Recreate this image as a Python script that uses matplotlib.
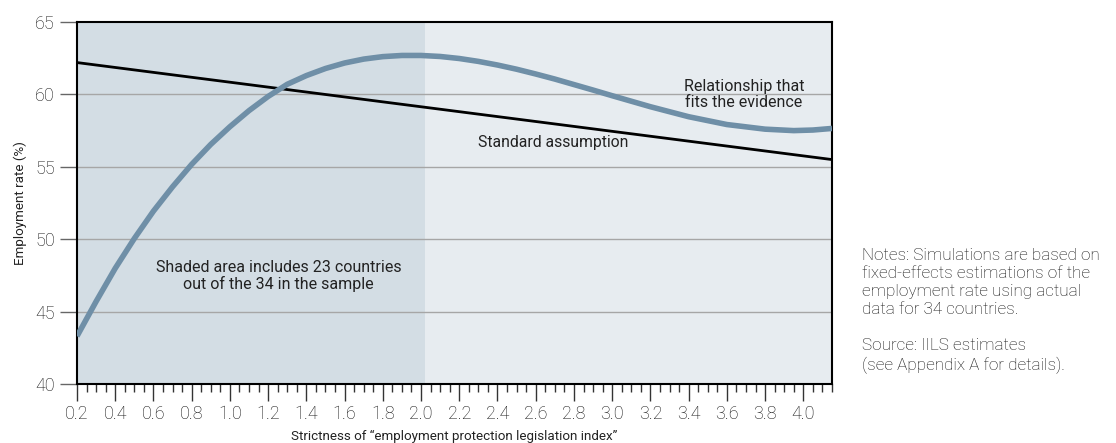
import matplotlib
matplotlib.use("Agg")
import matplotlib.pyplot as plt
from matplotlib.ticker import MultipleLocator

plt.rcParams['font.family'] = ['Roboto', 'DejaVu Sans']

# data
curve_x = [0.2, 0.3, 0.4, 0.5, 0.6, 0.7, 0.8, 0.9, 1.0, 1.1, 1.2, 1.3, 1.4,
           1.5, 1.6, 1.7, 1.8, 1.9, 2.0, 2.1, 2.2, 2.3, 2.4, 2.5, 2.6, 2.7,
           2.8, 2.9, 3.0, 3.2, 3.4, 3.6, 3.8, 3.95, 4.05, 4.15]
curve_y = [43.3, 45.7, 47.99, 50.05, 51.94, 53.62, 55.17, 56.55, 57.77,
           58.88, 59.86, 60.70, 61.30, 61.79, 62.17, 62.44, 62.61, 62.69,
           62.69, 62.62, 62.48, 62.28, 62.03, 61.74, 61.41, 61.06, 60.68,
           60.30, 59.91, 59.15, 58.46, 57.92, 57.60, 57.50, 57.54, 57.65]
line_x = [0.2, 4.15]
line_y = [62.2, 55.5]
shade_x = [0.2, 2.02]
xticks = [0.2, 0.4, 0.6, 0.8, 1.0, 1.2, 1.4, 1.6, 1.8, 2.0, 2.2, 2.4, 2.6, 2.8,
          3.0, 3.2, 3.4, 3.6, 3.8, 4.0]
yticks = [40, 45, 50, 55, 60, 65]

fig = plt.figure(figsize=(11.16, 4.43), dpi=100)
ax = fig.add_axes([0.069, 0.1332, 0.6765, 0.8171])
ax.set_facecolor('#e7ecf0')
ax.axvspan(shade_x[0], shade_x[1], color='#d3dde4', lw=0, zorder=0)

ax.set_xlim(0.2, 4.15)
ax.set_ylim(40, 65)
for yv in yticks[1:-1]:
    ax.axhline(yv, color='#a6a6a6', lw=1, zorder=1)

ax.plot(line_x, line_y, color='black', lw=2, zorder=3)
ax.plot(curve_x, curve_y, color='#6f8fa7', lw=4, zorder=4,
        solid_capstyle='butt', solid_joinstyle='round')

ax.set_xticks(xticks)
ax.set_xticklabels(['%.1f' % v for v in xticks], fontweight='light')
ax.xaxis.set_minor_locator(MultipleLocator(0.05))
ax.set_yticks(yticks)
ax.set_yticklabels([str(v) for v in yticks], fontweight='light')
ax.tick_params(axis='x', which='major', length=12, width=1, color='#333333',
               labelsize=13, labelcolor='#111111', pad=3)
ax.tick_params(axis='x', which='minor', length=6, width=1, color='#333333')
ax.tick_params(axis='y', which='major', length=12, width=1, color='#666666',
               labelsize=13, labelcolor='#111111', pad=4)
for s in ax.spines.values():
    s.set_linewidth(1.5)
    s.set_color('black')

ax.set_xlabel('Strictness of \u201cemployment protection legislation index\u201d',
              fontsize=9.6, color='#222222', labelpad=5)
ax.set_ylabel('Employment rate (%)', fontsize=9.6, color='#222222', labelpad=6)

ax.text(3.69, 60.0, 'Relationship that\nfits the evidence', ha='center',
        va='center', fontsize=11.5, color='#222222', linespacing=1.12, zorder=5)
ax.text(2.69, 56.65, 'Standard assumption', ha='center', va='center',
        fontsize=11.3, color='#222222', zorder=5)
ax.text(1.255, 47.46, 'Shaded area includes 23 countries\nout of the 34 in the sample',
        ha='center', va='center', fontsize=11.5, color='#222222',
        linespacing=1.12, zorder=5)

fig.text(0.7724, 0.3623, 'Notes: Simulations are based on\nfixed-effects estimations of the\n'
         'employment rate using actual\ndata for 34 countries.',
         ha='left', va='center', fontsize=12.3, fontweight='light',
         color='#111111', linespacing=1.25)
fig.text(0.7724, 0.1964, 'Source: IILS estimates\n(see Appendix A for details).',
         ha='left', va='center', fontsize=12.3, fontweight='light',
         color='#111111', linespacing=1.25)

fig.savefig('out.png', dpi=100)
